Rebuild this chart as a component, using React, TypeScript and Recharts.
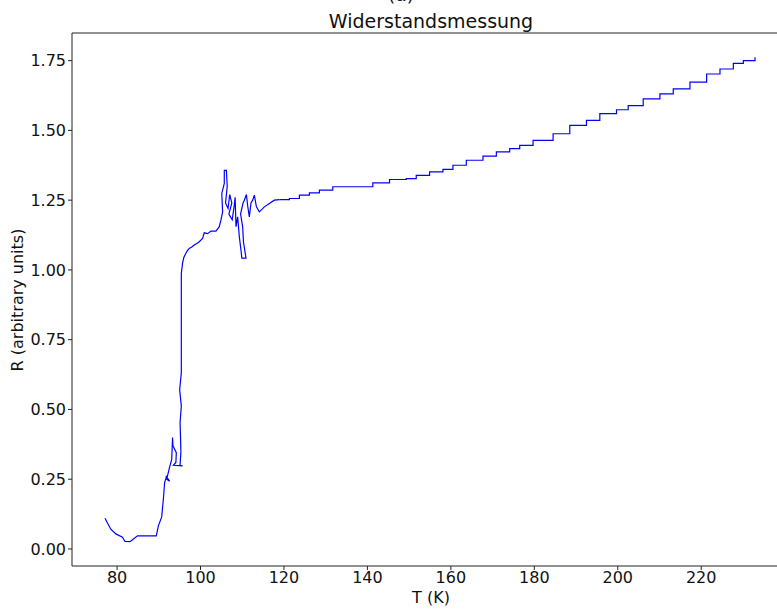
import React from "react";
import { LineChart, Line, XAxis, YAxis, ReferenceLine } from "recharts";

// Low-temperature branch and transition region (measurement order)
const lowTemperatures: number[] = [
  77.1, 78.5, 79.7, 81.3, 81.9, 83.1, 83.7, 84.9, 89.4, 89.9, 90.7, 91.1, 91.4, 91.7,
  91.8, 92.6, 91.9, 92.5, 93.1, 93.3, 93.4, 94.2, 94.1, 93.5, 95.7, 95.1, 95.3, 95.1,
  95.4, 95.0, 95.4, 95.4, 95.4, 95.7, 96.0, 96.5, 96.9, 97.3, 97.9, 98.5, 99.1, 99.7,
  100.5, 100.9, 101.7, 102.5, 103.7, 104.5, 104.9, 105.3, 105.1, 105.7, 105.7, 106.2,
  106.4, 106.0, 106.6, 107.0, 107.5, 106.8, 107.6, 108.1, 108.3, 108.5, 108.9, 109.3,
  109.7, 109.9, 110.9, 110.3, 110.1, 109.6, 110.2, 110.5, 111.0, 111.3, 111.7, 112.1,
  112.5, 112.9, 113.4, 114.1, 115.3, 116.5, 117.7, 118.9,
];

const lowResistances: number[] = [
  0.110, 0.071, 0.054, 0.042, 0.027, 0.026, 0.033, 0.047, 0.047, 0.083, 0.115, 0.179, 0.238, 0.252,
  0.260, 0.243, 0.250, 0.288, 0.321, 0.399, 0.370, 0.345, 0.310, 0.300, 0.298, 0.300, 0.350, 0.453,
  0.512, 0.571, 0.631, 0.714, 0.988, 1.024, 1.045, 1.060, 1.070, 1.077, 1.082, 1.089, 1.095, 1.101,
  1.113, 1.133, 1.130, 1.139, 1.139, 1.155, 1.179, 1.208, 1.274, 1.310, 1.357, 1.357,
  1.300, 1.240, 1.220, 1.270, 1.240, 1.200, 1.180, 1.232, 1.260, 1.155, 1.190, 1.119,
  1.071, 1.042, 1.042, 1.100, 1.155, 1.200, 1.240, 1.250, 1.270, 1.230, 1.190, 1.240,
  1.250, 1.268, 1.226, 1.208, 1.226, 1.238, 1.250, 1.252,
];

// Normal-state branch (stair-stepped readout)
const highTemperatures: number[] = [
  118.9, 121.3, 123.7, 126.1, 128.5, 131.7, 141.3, 145.3, 149.3, 151.7, 154.9, 158.1,
  160.5, 163.7, 167.7, 170.9, 174.1, 176.5, 179.7, 184.5, 188.5, 192.5, 195.7, 199.7,
  202.5, 206.1, 210.1, 213.3, 217.3, 221.3, 224.5, 227.7, 230.1, 232.9,
];

const highResistances: number[] = [
  1.252, 1.256, 1.268, 1.276, 1.286, 1.298, 1.312, 1.324, 1.327, 1.339, 1.351, 1.360,
  1.375, 1.393, 1.408, 1.423, 1.435, 1.446, 1.464, 1.488, 1.518, 1.536, 1.560, 1.574,
  1.589, 1.613, 1.631, 1.649, 1.673, 1.702, 1.720, 1.740, 1.750, 1.762,
];

const xTicks: number[] = [80, 100, 120, 140, 160, 180, 200, 220];
const yTicks: number[] = [0, 0.25, 0.5, 0.75, 1.0, 1.25, 1.5, 1.75];

const titleText = "Widerstandsmessung";
const subTitleText = "(a)";
const xLabelText = "T (K)";
const yLabelText = "R (arbitrary units)";

const X_DOMAIN: [number, number] = [69.2, 240.8];
const Y_DOMAIN: [number, number] = [-0.061, 1.849];

const lowData = lowTemperatures.map((t, i) => ({ T: t, R: lowResistances[i] }));
const highData = highTemperatures.map((t, i) => ({ T: t, R: highResistances[i] }));

const FONT = "'DejaVu Sans', sans-serif";
const AXIS = "#222";

export default function App() {
  return (
    <div style={{ position: "absolute", left: 0, top: 0, width: 777, height: 612, overflow: "hidden", background: "#fff" }}>
      <LineChart width={800} height={612} margin={{ top: 33, right: 12, bottom: 0, left: 0 }}>
        <XAxis
          dataKey="T"
          type="number"
          domain={X_DOMAIN}
          ticks={xTicks}
          allowDataOverflow
          height={46}
          stroke={AXIS}
          tickSize={4}
          tickMargin={2}
          tick={{ fill: "#111", fontSize: 16, fontFamily: FONT }}
        />
        <YAxis
          type="number"
          domain={Y_DOMAIN}
          ticks={yTicks}
          allowDataOverflow
          width={72}
          stroke={AXIS}
          tickSize={4}
          tickMargin={2}
          tickFormatter={(v: number) => v.toFixed(2)}
          tick={{ fill: "#111", fontSize: 16, fontFamily: FONT }}
        />
        <ReferenceLine y={Y_DOMAIN[1]} stroke={AXIS} strokeWidth={1} ifOverflow="visible" />
        <ReferenceLine x={X_DOMAIN[1]} stroke={AXIS} strokeWidth={1} ifOverflow="visible" />
        <Line
          data={lowData}
          type="linear"
          dataKey="R"
          stroke="#0000ff"
          strokeWidth={1.2}
          dot={false}
          isAnimationActive={false}
        />
        <Line
          data={highData}
          type="stepAfter"
          dataKey="R"
          stroke="#0000ff"
          strokeWidth={1.2}
          dot={false}
          isAnimationActive={false}
        />
      </LineChart>
      <svg width={777} height={612} style={{ position: "absolute", left: 0, top: 0, pointerEvents: "none" }}>
        <text x={401} y={0.5} textAnchor="middle" fontFamily={FONT} fontSize={19} fill="#111">{subTitleText}</text>
        <text x={431} y={28} textAnchor="middle" fontFamily={FONT} fontSize={19} fill="#111">{titleText}</text>
        <text x={431} y={603} textAnchor="middle" fontFamily={FONT} fontSize={16} fill="#111">{xLabelText}</text>
        <text transform="translate(23,300) rotate(-90)" textAnchor="middle" fontFamily={FONT} fontSize={16} fill="#111">{yLabelText}</text>
      </svg>
    </div>
  );
}
